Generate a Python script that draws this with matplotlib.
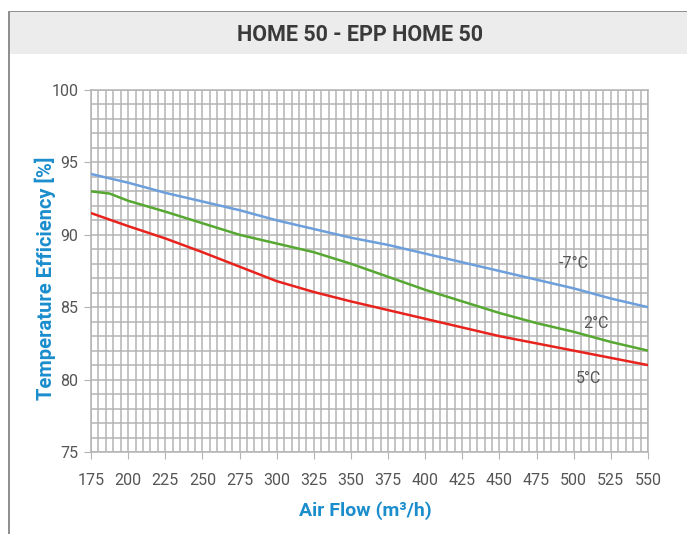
import matplotlib
matplotlib.use("Agg")
import matplotlib.pyplot as plt
from matplotlib.patches import Rectangle
import numpy as np

airflow = [175, 187.5, 200, 225, 250, 275, 300, 325, 350, 375, 400, 425, 450, 475, 500, 525, 550]
eff_m7 = [94.2, 93.9, 93.6, 92.9, 92.3, 91.7, 91.0, 90.4, 89.8, 89.3, 88.7, 88.1, 87.5, 86.9, 86.3, 85.6, 85.0]
eff_2 = [93.0, 92.85, 92.35, 91.6, 90.8, 90.0, 89.4, 88.8, 88.0, 87.1, 86.2, 85.4, 84.6, 83.9, 83.3, 82.6, 82.0]
eff_5 = [91.5, 91.05, 90.6, 89.75, 88.8, 87.8, 86.8, 86.05, 85.4, 84.8, 84.2, 83.6, 83.0, 82.5, 82.0, 81.5, 81.0]
series_labels = ["-7°C", "2°C", "5°C"]
label_pos_x = [500, 515, 510]
label_pos_y = [88.05, 83.9, 80.1]
x_ticks = list(range(175, 551, 25))
y_ticks = [75, 80, 85, 90, 95, 100]

title = "HOME 50 - EPP HOME 50"
xlabel = "Air Flow (m³/h)"
ylabel = "Temperature Efficiency [%]"

font = "Roboto"
blue_txt = "#1b8dcd"
tick_col = "#555555"
grid_col = "#b4b4b4"

fig = plt.figure(figsize=(6.87, 5.34), dpi=100)

# outer frame and title band
fig.patches.append(Rectangle((8.5/687, -0.05), 1.0, 1 - 11.5/534 + 0.05, transform=fig.transFigure,
                             facecolor="white", edgecolor="#7a7a7a", linewidth=1.2, zorder=0))
fig.patches.append(Rectangle((9.5/687, 1 - 54/534), 1.0, 42/534, transform=fig.transFigure,
                             facecolor="#ececec", edgecolor="none", zorder=1))
fig.text(360/687, 1 - 35/534, title, ha="center", va="center", fontsize=15.5,
         fontweight="bold", color="#3a3a3a", family=font, zorder=2)

ax = fig.add_axes([91/687, 1 - 452/534, (648 - 91)/687, (452 - 90)/534])
ax.set_zorder(3)
ax.set_xlim(175, 550)
ax.set_ylim(75, 100)

ax.set_xticks(x_ticks)
ax.set_yticks(y_ticks)
ax.set_xticks(np.arange(175, 551, 5), minor=True)
ax.set_yticks(np.arange(75, 101, 1), minor=True)
ax.grid(which="both", color=grid_col, linewidth=1.1)
ax.set_axisbelow(True)
for s in ax.spines.values():
    s.set_color(grid_col)
    s.set_linewidth(1.1)

ax.tick_params(which="major", length=5, color=grid_col, labelcolor=tick_col, labelsize=11.5, pad=4)
ax.tick_params(axis="x", which="major", pad=10)
ax.tick_params(which="minor", length=0)
for lab in ax.get_xticklabels() + ax.get_yticklabels():
    lab.set_family(font)

colors = ["#6c9fdc", "#56a832", "#e8231d"]
for ys, c in zip([eff_m7, eff_2, eff_5], colors):
    ax.plot(airflow, ys, color=c, linewidth=1.8, zorder=4)

for t, x, y in zip(series_labels, label_pos_x, label_pos_y):
    ax.text(x, y, t, ha="center", va="center", fontsize=11.5, color="#555555", family=font, zorder=5)

fig.text(45/687, 1 - 278/534, ylabel, rotation=90, ha="center", va="center", fontsize=14.5,
         fontweight="bold", color=blue_txt, family=font)
fig.text(365/687, 1 - 511/534, xlabel, ha="center", va="center", fontsize=14,
         fontweight="bold", color=blue_txt, family=font)

fig.savefig("out.png", dpi=100)
